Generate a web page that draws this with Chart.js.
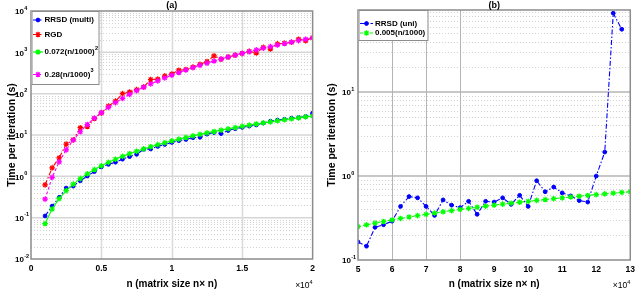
<!DOCTYPE html>
<html>
<head>
<meta charset="utf-8">
<script src="https://cdn.jsdelivr.net/npm/chart.js@4.4.0/dist/chart.umd.min.js"></script>
<style>
  html, body { margin: 0; padding: 0; background: #fff; }
  #wrap { position: relative; width: 640px; height: 289px; }
  canvas { position: absolute; top: 0; }
  #chart-a { left: 0; }
  #chart-b { left: 320px; }
</style>
</head>
<body>
<div id="wrap">
  <canvas id="chart-a" width="320" height="289"></canvas>
  <canvas id="chart-b" width="320" height="289"></canvas>
</div>
<script>
// ---- panel (a) data ----
const sizesA = [1000, 1500, 2000, 2500, 3000, 3500, 4000, 4500, 5000, 5500, 6000, 6500, 7000,
  7500, 8000, 8500, 9000, 9500, 10000, 10500, 11000, 11500, 12000, 12500, 13000, 13500,
  14000, 14500, 15000, 15500, 16000, 16500, 17000, 17500, 18000, 18500, 19000, 19500, 20000];
const rrsdMulti = [0.11, 0.19, 0.31, 0.52, 0.58, 0.78, 1.02, 1.3, 1.7, 1.95, 2.2, 2.6, 3.0,
  3.4, 4.5, 4.6, 5.3, 5.9, 6.6, 7.3, 7.8, 8.6, 8.8, 10.5, 11.5, 10.8,
  12.8, 14.2, 15.3, 16.4, 17.5, 19.5, 21.5, 23, 24, 25.5, 26.5, 28, 34];
const rgd = [0.62, 1.6, 2.8, 6.0, 7.6, 15, 16, 25, 34, 50, 66, 100, 110,
  125, 145, 220, 225, 270, 300, 370, 385, 440, 510, 600, 820, 680,
  770, 850, 940, 1060, 960, 1320, 1200, 1600, 1660, 1750, 2080, 1900, 2270];
const fitSquare = [0.072, 0.162, 0.288, 0.45, 0.648, 0.882, 1.152, 1.458, 1.8, 2.178, 2.592, 3.042, 3.528,
  4.05, 4.608, 5.202, 5.832, 6.498, 7.2, 7.938, 8.712, 9.522, 10.37, 11.25, 12.17, 13.12,
  14.11, 15.14, 16.2, 17.3, 18.43, 19.6, 20.81, 22.05, 23.33, 24.64, 25.99, 27.38, 28.8];
const fitCube = [0.28, 0.945, 2.24, 4.375, 7.56, 12.0, 17.92, 25.5, 35, 46.6, 60.5, 76.9, 96,
  118, 143, 172, 204, 240, 280, 324, 373, 426, 484, 547, 615, 689,
  768, 854, 945, 1043, 1147, 1258, 1376, 1500, 1633, 1773, 1921, 2076, 2240];
const labelsA = ['RRSD (multi)', 'RGD', '0.072(n/1000)', '0.28(n/1000)'];
const labelSupA = ['', '', '2', '3'];
const xTicksA = [0, 5000, 10000, 15000, 20000];
const xTickLabelsA = ['0', '0.5', '1', '1.5', '2'];
const yDecadesA = [-2, -1, 0, 1, 2, 3, 4];

// ---- panel (b) data ----
const sizesB = [50000, 52500, 55000, 57500, 60000, 62500, 65000, 67500, 70000, 72500, 75000,
  77500, 80000, 82500, 85000, 87500, 90000, 92500, 95000, 97500, 100000, 102500,
  105000, 107500, 110000, 112500, 115000, 117500, 120000, 122500, 125000, 127500, 130000];
const rrsdUni = [0.164, 0.146, 0.245, 0.263, 0.29, 0.435, 0.57, 0.55, 0.435, 0.34, 0.52,
  0.45, 0.42, 0.50, 0.35, 0.50, 0.49, 0.55, 0.46, 0.59, 0.435, 0.88,
  0.65, 0.74, 0.63, 0.58, 0.51, 0.49, 1.0, 1.93, 87, 56];
const fitLinear = [0.25, 0.2625, 0.275, 0.2875, 0.3, 0.3125, 0.325, 0.3375, 0.35, 0.3625, 0.375,
  0.3875, 0.4, 0.4125, 0.425, 0.4375, 0.45, 0.4625, 0.475, 0.4875, 0.5, 0.5125,
  0.525, 0.5375, 0.55, 0.5625, 0.575, 0.5875, 0.6, 0.6125, 0.625, 0.6375, 0.65];
const labelsB = ['RRSD (uni)', '0.005(n/1000)'];
const labelSupB = ['', ''];
const xTicksB = [50000, 60000, 70000, 80000, 90000, 100000, 110000, 120000, 130000];
const xTickLabelsB = ['5', '6', '7', '8', '9', '10', '11', '12', '13'];
const yDecadesB = [-1, 0, 1];

const FONT = '"Liberation Sans", Arial, sans-serif';

function points(xs, ys) {
  return ys.map((v, i) => ({ x: xs[i], y: v }));
}

// order: later series in the list are drawn on top, like matlab
function series(label, data, color, style, dash, order) {
  return {
    label: label,
    data: data,
    order: order,
    borderColor: color,
    backgroundColor: color,
    borderWidth: 1.1,
    borderDash: dash,
    pointStyle: style,
    pointRadius: style === 'circle' ? 1.9 : 2.8,
    pointBorderWidth: style === 'circle' ? 1 : 1.2,
    tension: 0
  };
}

// draws the matlab-like frame, grid, tick labels, titles and legend
function matlabLook(cfg) {
  return {
    id: 'matlabLook',
    beforeDatasetsDraw(chart) {
      const { ctx, chartArea: a, scales: { x, y } } = chart;
      ctx.save();
      ctx.beginPath();
      ctx.rect(a.left, a.top, a.right - a.left, a.bottom - a.top);
      ctx.clip();
      // minor dotted lines
      ctx.strokeStyle = '#d2d2d2';
      ctx.lineWidth = 1;
      ctx.setLineDash([1, 2]);
      for (let e = cfg.decades[0] - 1; e <= cfg.decades[cfg.decades.length - 1] + 1; e++) {
        for (let m = 2; m <= 9; m++) {
          const v = m * Math.pow(10, e);
          if (v <= y.min || v >= y.max) continue;
          const py = Math.round(y.getPixelForValue(v)) + 0.5;
          ctx.beginPath(); ctx.moveTo(a.left, py); ctx.lineTo(a.right, py); ctx.stroke();
        }
      }
      // decade lines
      ctx.setLineDash([]);
      ctx.strokeStyle = cfg.majorColor;
      ctx.lineWidth = 1.5;
      for (let e = cfg.decades[0]; e <= cfg.decades[cfg.decades.length - 1] + 1; e++) {
        const v = Math.pow(10, e);
        if (v <= y.min || v >= y.max) continue;
        const py = y.getPixelForValue(v);
        ctx.beginPath(); ctx.moveTo(a.left, py); ctx.lineTo(a.right, py); ctx.stroke();
      }
      // vertical lines
      ctx.strokeStyle = cfg.vColor;
      ctx.lineWidth = cfg.vWidth;
      cfg.vGrid.forEach(v => {
        const px = Math.round(x.getPixelForValue(v)) + 0.5;
        ctx.beginPath(); ctx.moveTo(px, a.top); ctx.lineTo(px, a.bottom); ctx.stroke();
      });
      ctx.restore();
    },
    afterDatasetsDraw(chart) {
      const { ctx, chartArea: a, scales: { y } } = chart;
      ctx.save();
      // frame
      ctx.strokeStyle = '#8c8c8c';
      ctx.lineWidth = 1.5;
      ctx.strokeRect(a.left, a.top, a.right - a.left, a.bottom - a.top);

      ctx.fillStyle = '#000';
      ctx.textBaseline = 'middle';
      ctx.textAlign = 'left';
      // y tick labels 10^e
      cfg.decades.forEach(e => {
        const py = y.getPixelForValue(Math.pow(10, e));
        ctx.font = 'bold 8px ' + FONT;
        const x0 = a.left - 16;
        ctx.fillText('10', x0, py + 1);
        const w = ctx.measureText('10').width;
        ctx.font = 'bold 5.5px ' + FONT;
        ctx.fillText(String(e), x0 + w + 0.3, py - 3);
      });

      // y title
      ctx.save();
      ctx.translate(12, (a.top + a.bottom) / 2);
      ctx.rotate(-Math.PI / 2);
      ctx.textAlign = 'center';
      ctx.font = 'bold 10.5px ' + FONT;
      ctx.fillText('Time per iteration (s)', 0, 0);
      ctx.restore();

      // x title
      ctx.textAlign = 'center';
      ctx.font = 'bold 10px ' + FONT;
      ctx.fillText('n (matrix size n\u00d7 n)', (a.left + a.right) / 2, 284);

      // panel title
      ctx.font = 'bold 9px ' + FONT;
      ctx.fillText(cfg.title, (a.left + a.right) / 2, 5.5);

      // x10^4 factor
      ctx.textAlign = 'left';
      ctx.font = '5.5px ' + FONT;
      const supW = ctx.measureText('4').width;
      ctx.font = '8.5px ' + FONT;
      const baseW = ctx.measureText('\u00d710').width;
      const fx = a.right - supW - baseW;
      ctx.fillText('\u00d710', fx, 285.5);
      ctx.font = '5.5px ' + FONT;
      ctx.fillText('4', fx + baseW, 282);

      // legend
      const L = cfg.legend;
      ctx.fillStyle = '#fff';
      ctx.fillRect(a.left + L.dx, a.top, L.w, L.h);
      ctx.strokeStyle = '#8c8c8c';
      ctx.lineWidth = 1;
      ctx.strokeRect(a.left + L.dx + 0.5, a.top + 0.5, L.w, L.h);
      chart.data.datasets.forEach((ds, i) => {
        const ry = L.rows[i];
        const x1 = a.left + L.sample[0], x2 = a.left + L.sample[1];
        ctx.strokeStyle = ds.borderColor;
        ctx.fillStyle = ds.backgroundColor;
        ctx.lineWidth = 1.2;
        ctx.setLineDash(ds.borderDash || []);
        ctx.beginPath(); ctx.moveTo(x1, ry); ctx.lineTo(x2, ry); ctx.stroke();
        ctx.setLineDash([]);
        ctx.lineWidth = ds.pointBorderWidth;
        Chart.helpers.drawPoint(ctx, {
          pointStyle: ds.pointStyle, radius: ds.pointRadius,
          borderWidth: ds.pointBorderWidth, rotation: 0
        }, (x1 + x2) / 2, ry);
        ctx.fillStyle = '#000';
        ctx.font = 'bold 8px ' + FONT;
        const tx = a.left + L.text;
        ctx.fillText(ds.label, tx, ry);
        if (cfg.sup[i]) {
          const w = ctx.measureText(ds.label).width;
          ctx.font = 'bold 5.5px ' + FONT;
          ctx.fillText(cfg.sup[i], tx + w + 0.3, ry - 4);
        }
      });
      ctx.restore();
    }
  };
}

function xScale(min, max, ticks, labels, height) {
  return {
    type: 'linear',
    min: min,
    max: max,
    grid: { display: false, drawTicks: false },
    border: { display: false },
    afterBuildTicks: s => { s.ticks = ticks.map(v => ({ value: v })); },
    ticks: {
      autoSkip: false,
      maxRotation: 0,
      padding: 5,
      color: '#000',
      font: { family: FONT, size: 8.5, weight: 'bold' },
      callback: v => labels[ticks.indexOf(v)]
    },
    afterFit: s => { s.height = height; }
  };
}

function yScale(min, max, width) {
  return {
    type: 'logarithmic',
    min: min,
    max: max,
    grid: { display: false, drawTicks: false },
    border: { display: false },
    ticks: { display: false },
    afterFit: s => { s.width = width; }
  };
}

// panel (a)
new Chart(document.getElementById('chart-a'), {
  type: 'line',
  data: {
    datasets: [
      series(labelsA[0], points(sizesA, rrsdMulti), '#0000ff', 'circle', [5, 2, 1.5, 2], 4),
      series(labelsA[1], points(sizesA, rgd), '#ff0000', 'star', [5, 2, 1.5, 2], 3),
      series(labelsA[2], points(sizesA, fitSquare), '#00ff00', 'star', [], 2),
      series(labelsA[3], points(sizesA, fitCube), '#ff00ff', 'star', [3, 2], 1)
    ]
  },
  options: {
    responsive: false,
    animation: false,
    layout: { padding: { left: 0, right: 2, top: 11, bottom: 0 } },
    plugins: { legend: { display: false }, tooltip: { enabled: false } },
    scales: {
      x: xScale(0, 20000, xTicksA, xTickLabelsA, 30),
      y: yScale(0.01, 10000, 31)
    }
  },
  plugins: [matlabLook({
    title: '(a)',
    decades: yDecadesA,
    sup: labelSupA,
    majorColor: '#d6d6d6',
    vGrid: [5000, 10000, 15000],
    vColor: '#dadada',
    vWidth: 1.5,
    legend: { dx: 0.5, w: 67, h: 73, rows: [20, 34.5, 52, 74.5], sample: [2, 12], text: 13.5 }
  })]
});

// panel (b)
new Chart(document.getElementById('chart-b'), {
  type: 'line',
  data: {
    datasets: [
      series(labelsB[0], points(sizesB, rrsdUni), '#0000ff', 'circle', [5, 2, 1.5, 2], 2),
      series(labelsB[1], points(sizesB, fitLinear), '#00ff00', 'star', [3, 2], 1)
    ]
  },
  options: {
    responsive: false,
    animation: false,
    layout: { padding: { left: 0, right: 7, top: 10, bottom: 0 } },
    plugins: { legend: { display: false }, tooltip: { enabled: false } },
    scales: {
      x: xScale(50000, 130000, xTicksB, xTickLabelsB, 29),
      y: yScale(0.1, 95, 38)
    }
  },
  plugins: [matlabLook({
    title: '(b)',
    decades: yDecadesB,
    sup: labelSupB,
    majorColor: '#b4b4b4',
    vGrid: [60000, 70000, 80000],
    vColor: '#b4b4b4',
    vWidth: 1,
    legend: { dx: 0.5, w: 69, h: 30, rows: [23.5, 33], sample: [2, 15], text: 17 }
  })]
});
</script>
</body>
</html>
